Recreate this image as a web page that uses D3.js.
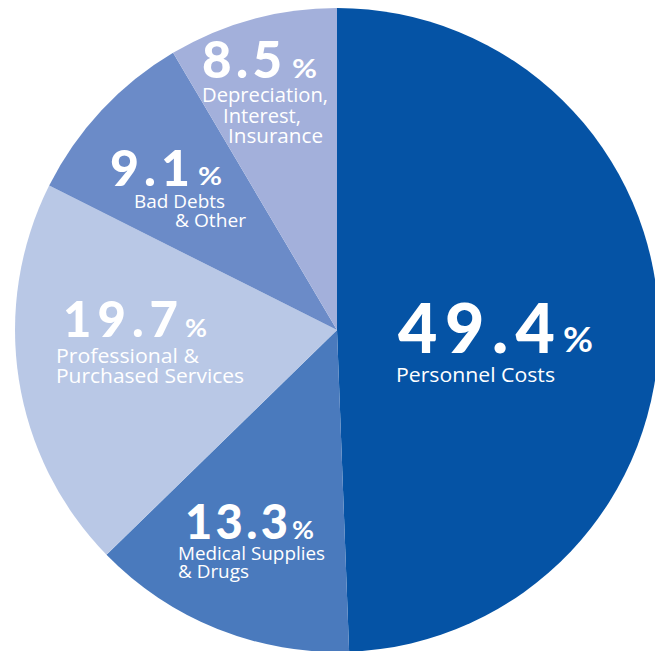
<!DOCTYPE html>
<html><head><meta charset="utf-8">
<script src="https://cdn.jsdelivr.net/npm/d3@7"></script>
<style>html,body{margin:0;padding:0;background:#fff;overflow:hidden}</style>
</head><body>
<svg id="chart" width="655" height="651"></svg>
<script>
// Expense breakdown, clockwise from 12 o'clock
const categories = ["Personnel Costs", "Medical Supplies & Drugs", "Professional & Purchased Services", "Bad Debts & Other", "Depreciation, Interest, Insurance"];
const shares = [49.4, 13.3, 19.7, 9.1, 8.5];
const labelLines = [
  ["Personnel Costs"],
  ["Medical Supplies", "& Drugs"],
  ["Professional &", "Purchased Services"],
  ["Bad Debts", "& Other"],
  ["Depreciation,", "Interest,", "Insurance"]
];

const sliceColors = ["#0553a5", "#4a7abd", "#b9c8e6", "#6b8bc8", "#a3b0db"];

// Label placement, offsets from the pie centre
const labelLayout = [
  { num: [61, 23, 157, 68], pct: [226, 22, 30, 35], lx: [59], ly: [52], lw: [159], ls: 20 },
  { num: [-152, 209, 103, 47], pct: [-45, 209, 22, 25], lx: [-159, -159], ly: [230, 248], lw: [147, 71], ls: 17.5 },
  { num: [-274, 7, 115, 49], pct: [-152, 7, 22, 25], lx: [-281, -281], ly: [32.5, 53], lw: [143, 188], ls: 20 },
  { num: [-227, -144, 80, 50], pct: [-139, -145, 24, 24], lx: [-203, -162], ly: [-122.5, -103], lw: [91, 71], ls: 19 },
  { num: [-135, -252, 80, 51], pct: [-45, -252, 25, 26], lx: [-135, -114, -109], ly: [-228.5, -207.5, -187], lw: [126, 78, 95], ls: 20 }
];

const cx = 337, cy = 330, radius = 322;
const svg = d3.select("#chart");
const g = svg.append("g").attr("transform", `translate(${cx},${cy})`);

const pie = d3.pie().sort(null).value(d => d);
const arc = d3.arc().innerRadius(0).outerRadius(radius);
const arcs = pie(shares);

g.selectAll("path.slice")
  .data(arcs)
  .join("path")
  .attr("class", "slice")
  .attr("d", arc)
  .attr("fill", (d, i) => sliceColors[i]);

const numFont = "Lato, 'Open Sans', sans-serif";
const labelFont = "'Open Sans', Roboto, sans-serif";

arcs.forEach((a, i) => {
  const L = labelLayout[i];
  const lab = g.append("g").attr("class", "label").attr("fill", "#fff");
  lab.append("text")
    .attr("x", L.num[0]).attr("y", L.num[1])
    .attr("font-family", numFont).attr("font-weight", 900)
    .attr("font-size", L.num[3])
    .attr("textLength", L.num[2]).attr("lengthAdjust", "spacing")
    .text(shares[i].toFixed(1));
  lab.append("text")
    .attr("x", L.pct[0]).attr("y", L.pct[1])
    .attr("font-family", numFont).attr("font-weight", 700)
    .attr("font-size", L.pct[3])
    .attr("textLength", L.pct[2]).attr("lengthAdjust", "spacingAndGlyphs")
    .text("%");
  labelLines[i].forEach((line, j) => {
    lab.append("text")
      .attr("x", L.lx[j]).attr("y", L.ly[j])
      .attr("font-family", labelFont).attr("font-weight", 400)
      .attr("font-size", L.ls)
      .attr("textLength", L.lw[j]).attr("lengthAdjust", "spacingAndGlyphs")
      .text(line);
  });
});
</script>
</body></html>
